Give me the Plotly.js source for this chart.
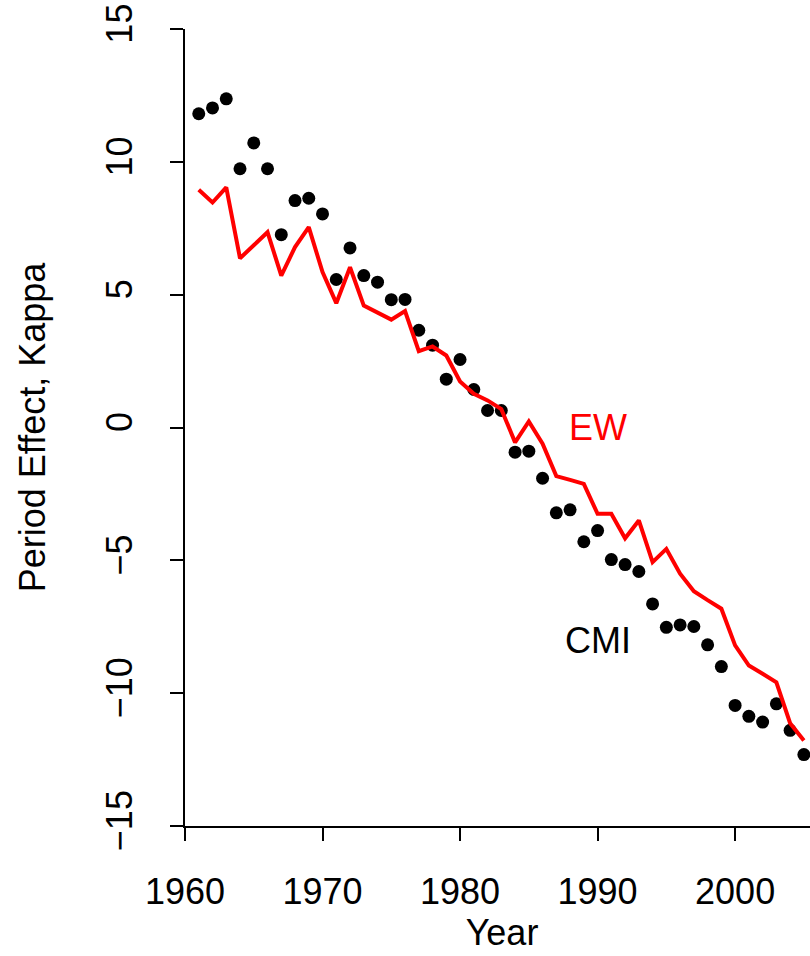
<!DOCTYPE html>
<html>
<head>
<meta charset="utf-8">
<script src="https://cdn.plot.ly/plotly-3.0.1.min.js"></script>
<style>
html,body{margin:0;padding:0;overflow:hidden;background:#fff;}
#chart{width:820px;height:956px;}
</style>
</head>
<body>
<div id="chart"></div>
<script>
const years = [1961,1962,1963,1964,1965,1966,1967,1968,1969,1970,
  1971,1972,1973,1974,1975,1976,1977,1978,1979,1980,
  1981,1982,1983,1984,1985,1986,1987,1988,1989,1990,
  1991,1992,1993,1994,1995,1996,1997,1998,1999,2000,
  2001,2002,2003,2004,2005];

const cmi = [11.81,12.03,12.37,9.74,10.71,9.74,7.26,8.54,8.63,8.04,
  5.57,6.76,5.72,5.47,4.81,4.82,3.66,3.10,1.82,2.56,
  1.43,0.64,0.64,-0.93,-0.89,-1.91,-3.21,-3.10,-4.30,-3.88,
  -4.97,-5.16,-5.42,-6.64,-7.52,-7.43,-7.49,-8.18,-9.00,-10.46,
  -10.87,-11.09,-10.40,-11.40,-12.31];

const ew = [8.95,8.47,9.04,6.37,6.86,7.35,5.72,6.79,7.54,5.85,
  4.68,6.03,4.59,4.34,4.06,4.38,2.87,3.05,2.71,1.73,
  1.27,1.02,0.69,-0.56,0.23,-0.61,-1.83,-1.97,-2.12,-3.25,
  -3.25,-4.17,-3.50,-5.07,-4.57,-5.50,-6.16,-6.50,-6.82,-8.20,
  -8.96,-9.27,-9.59,-11.13,-11.78];

const xTicks = [1960,1970,1980,1990,2000];
const yTicks = [-15,-10,-5,0,5,10,15];
const labels = [{text:"EW", x:1990, y:0, color:"#ff0000"},
                {text:"CMI", x:1990, y:-8, color:"#000000"}];

const FONT = "Liberation Sans, Arial, Helvetica, sans-serif";

const traces = [
  {x: years, y: cmi, type: "scatter", mode: "markers",
   marker: {color: "#000000", size: 13}, hoverinfo: "skip"},
  {x: years, y: ew, type: "scatter", mode: "lines",
   line: {color: "#ff0000", width: 4}, hoverinfo: "skip"}
];

const layout = {
  width: 820, height: 956,
  margin: {l: 185, r: 1, t: 29, b: 130},
  paper_bgcolor: "#ffffff", plot_bgcolor: "#ffffff",
  showlegend: false,
  font: {family: FONT, size: 36, color: "#000000"},
  xaxis: {
    range: [1960, 2006.1], tickvals: xTicks, ticktext: xTicks.map(String),
    showgrid: false, zeroline: false, showline: true, linecolor: "#000", linewidth: 2,
    ticks: "outside", ticklen: 13, tickwidth: 2, tickcolor: "#000",
    ticklabelstandoff: 20,
    tickfont: {family: FONT, size: 36, color: "#000"},
    title: {text: "Year", font: {family: FONT, size: 36, color: "#000"}, standoff: 8},
    automargin: false
  },
  yaxis: {
    range: [-15, 15], tickvals: yTicks, ticktext: yTicks.map(v => v < 0 ? "\u2212" + Math.abs(v) : String(v)),
    showgrid: false, zeroline: false, showline: true, linecolor: "#000", linewidth: 2,
    ticks: "outside", ticklen: 13, tickwidth: 2, tickcolor: "#000",
    tickangle: -90, ticklabelstandoff: 24,
    tickfont: {family: FONT, size: 36, color: "#000"},
    title: {text: "Period Effect, Kappa", font: {family: FONT, size: 36, color: "#000"}, standoff: 42},
    automargin: false
  },
  annotations: labels.map(l => ({
    x: l.x, y: l.y, xref: "x", yref: "y", text: l.text, showarrow: false,
    xanchor: "center", yanchor: "middle",
    font: {family: FONT, size: 36, color: l.color}
  }))
};

Plotly.newPlot("chart", traces, layout, {displayModeBar: false, staticPlot: true});
</script>
</body>
</html>
